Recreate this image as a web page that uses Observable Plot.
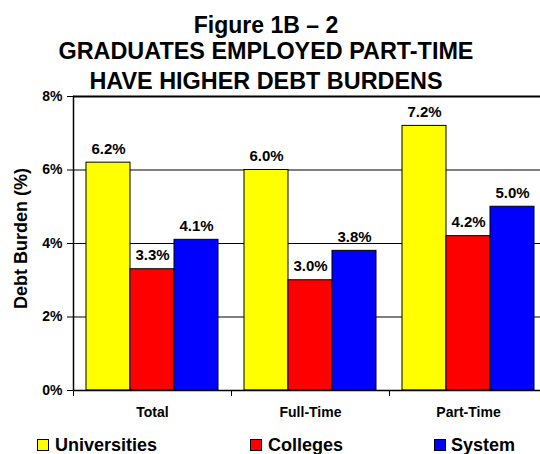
<!DOCTYPE html>
<html>
<head>
<meta charset="utf-8">
<script src="https://cdn.jsdelivr.net/npm/d3@7"></script>
<script src="https://cdn.jsdelivr.net/npm/@observablehq/plot@0.6"></script>
<style>
  html, body { margin: 0; padding: 0; background: #fff; }
  body { width: 540px; height: 454px; position: relative; overflow: hidden;
         font-family: "Liberation Sans", Arial, Helvetica, sans-serif; font-weight: bold; color: #000; }
  .t { position: absolute; left: 0; width: 532px; text-align: center; white-space: nowrap; z-index: 2; }
  #chart { position: absolute; left: 0; top: 86px; z-index: 1; }
  .lg { position: absolute; top: 436px; font-size: 18px; line-height: 18px; white-space: nowrap; z-index: 2; }
  .sw { position: absolute; top: 439px; width: 10px; height: 10px; border: 1px solid #000; z-index: 2; }
</style>
</head>
<body>
<div class="t" id="t1" style="top:13.5px;font-size:23px;line-height:23px;"></div>
<div class="t" id="t2" style="top:40px;font-size:23.4px;line-height:23.4px;"></div>
<div class="t" id="t3" style="top:69.5px;font-size:23.4px;line-height:23.4px;"></div>
<div id="chart"></div>
<div id="legend"></div>
<script>
const titleLines = ["Figure 1B \u2013 2", "GRADUATES EMPLOYED PART-TIME", "HAVE HIGHER DEBT BURDENS"];
const yLabel = "Debt Burden (%)";
const categories = ["Total", "Full-Time", "Part-Time"];
const series = ["Universities", "Colleges", "System"];
const universities = [6.2, 6.0, 7.2];
const colleges = [3.3, 3.0, 4.2];
const system = [4.1, 3.8, 5.0];
const yTicks = [0, 2, 4, 6, 8];
const colors = ["#ffff00", "#ff0000", "#0000ff"];

["t1", "t2", "t3"].forEach((id, i) => document.getElementById(id).textContent = titleLines[i]);

const values = [universities, colleges, system];
const data = [];
categories.forEach((c, ci) => series.forEach((s, si) => data.push({category: c, series: s, value: values[si][ci]})));

const plot = Plot.plot({
  width: 540,
  height: 340,
  marginLeft: 72,
  marginRight: -7,
  marginTop: 10,
  marginBottom: 36,
  style: {fontFamily: "'Liberation Sans', Arial, sans-serif", fontWeight: "bold", background: "transparent", overflow: "visible", color: "black"},
  fx: {domain: categories, padding: 0, axis: null, label: null},
  x: {domain: series, paddingInner: 0, paddingOuter: 0.285, axis: null},
  y: {domain: [0, 8], axis: null},
  color: {domain: series, range: colors},
  marks: [
    Plot.ruleY([2, 4, 6], {stroke: "black", strokeWidth: 1}),
    Plot.ruleY([8], {stroke: "black", strokeWidth: 2}),
    Plot.barY(data, {fx: "category", x: "series", y: "value", fill: "series", stroke: "black", strokeWidth: 1}),
    Plot.ruleY([0], {stroke: "black", strokeWidth: 1.5}),
    Plot.frame({anchor: "left", facetAnchor: "left", stroke: "black", strokeWidth: 1.5}),
    Plot.frame({anchor: "left", insetTop: 294, insetBottom: -5, stroke: "black", strokeWidth: 1}),
    Plot.text(data, {fx: "category", x: "series", y: "value", text: d => d.value.toFixed(1) + "%", lineAnchor: "bottom", dy: -9, fontSize: 15, fill: "black"}),
    Plot.axisY({ticks: yTicks, tickFormat: d => d + "%", tickSize: 6, tickPadding: 5, fontSize: 14, label: null, stroke: "black"}),
    Plot.text([yLabel], {text: d => d, facetAnchor: "left", frameAnchor: "left", textAnchor: "middle", rotate: -90, dx: -52, dy: -5, fontSize: 18, fill: "black"}),
    Plot.axisFx({anchor: "bottom", tickSize: 0, tickPadding: 17, fontSize: 14, label: null})
  ]
});
document.getElementById("chart").appendChild(plot);

const swX = [37, 250, 434];
const txX = [55, 268, 451];
const legend = document.getElementById("legend");
series.forEach((s, i) => {
  const sw = document.createElement("div");
  sw.className = "sw"; sw.style.left = swX[i] + "px"; sw.style.background = colors[i];
  legend.appendChild(sw);
  const tx = document.createElement("div");
  tx.className = "lg"; tx.style.left = txX[i] + "px"; tx.textContent = s;
  legend.appendChild(tx);
});
</script>
</body>
</html>
